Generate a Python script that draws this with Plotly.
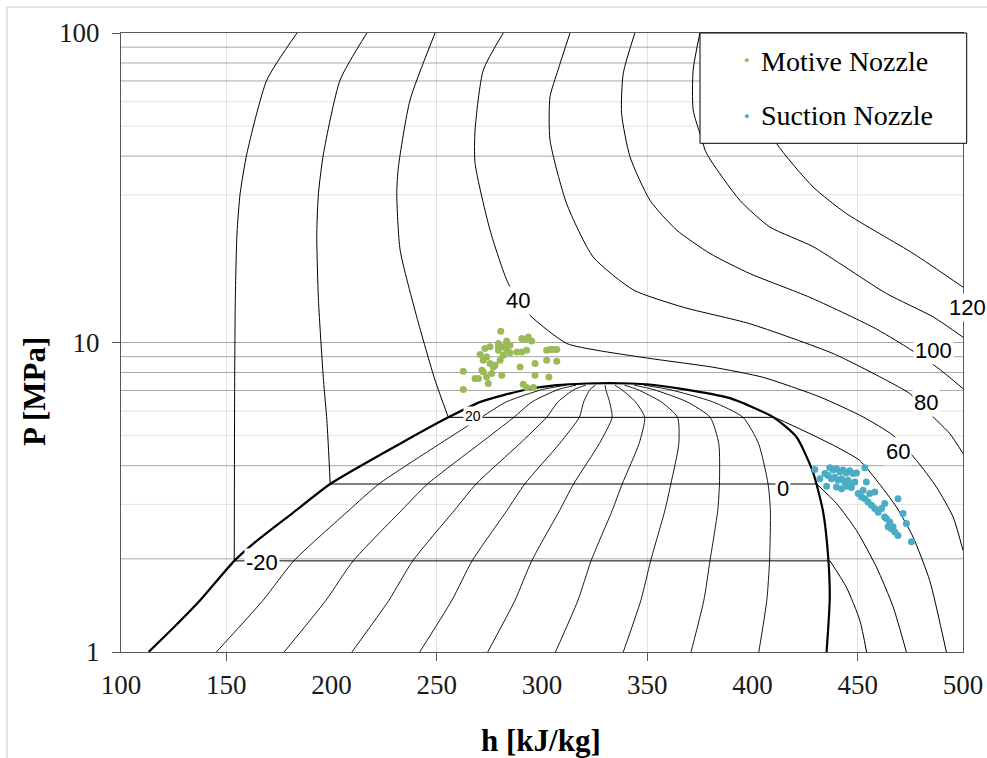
import numpy as np
import plotly.graph_objects as go

# ---------------- data (h in kJ/kg, P in MPa) ----------------
# saturation dome (liquid side -> critical point -> vapour side)
dome_h = [113.1, 125.0, 137.6, 153.8, 162.9, 181.2, 199.4, 232.6, 255.5, 270.8, 292.7, 307.0, 321.2, 332.0,
          342.0, 349.7, 365.5, 389.3, 410.0, 420.9, 428.8, 433.5, 435.9, 436.7, 435.2]
dome_P = [1.0, 1.20, 1.47, 1.97, 2.24, 2.80, 3.49, 4.71, 5.73, 6.43, 7.05, 7.28, 7.37, 7.39,
          7.37, 7.33, 7.10, 6.61, 5.73, 4.95, 3.80, 2.85, 2.05, 1.50, 1.0]

# constant-quality lines inside the dome (x = 0.1 ... 0.9)
q_P = [1.0, 1.47, 1.97, 2.87, 3.49, 4.71, 5.73, 6.43, 7.05, 7.28]
q_h = {
    0.1: [145.3, 167.5, 182.1, 208.3, 222.5, 251.5, 271.1, 283.1, 300.2, 311.6],
    0.2: [177.5, 197.4, 210.3, 233.3, 245.6, 270.4, 286.6, 295.3, 307.7, 316.2],
    0.3: [209.7, 227.3, 238.6, 258.4, 268.7, 289.4, 302.2, 307.6, 315.3, 320.8],
    0.4: [241.9, 257.2, 266.8, 283.4, 291.8, 308.3, 317.7, 319.8, 322.8, 325.4],
    0.5: [274.2, 287.2, 295.1, 308.4, 315.0, 327.2, 333.3, 332.1, 330.3, 330.0],
    0.6: [306.4, 317.1, 323.3, 333.4, 338.1, 346.1, 348.8, 344.4, 337.8, 334.6],
    0.7: [338.6, 347.0, 351.6, 358.4, 361.2, 365.0, 364.4, 356.6, 345.3, 339.2],
    0.8: [370.8, 376.9, 379.8, 383.5, 384.3, 384.0, 379.9, 368.9, 352.9, 343.8],
    0.9: [403.0, 406.8, 408.1, 408.5, 407.4, 402.9, 395.5, 381.1, 360.4, 348.4],
}

# sub-critical isotherms: liquid branch (ends at saturated liquid), vapour branch (starts at saturated vapour)
iso_m20_liq_h = [183.6, 169.3, 159.8, 156.6, 155.1, 154.3, 154.0, 153.8]
iso_m20_liq_P = [100, 70.5, 40.8, 30.3, 22.5, 13.7, 7.55, 1.97]
iso_m20_vap_h = [436.8, 444.6, 451.0, 454.2]
iso_m20_vap_P = [1.97, 1.62, 1.265, 1.0]

iso_0_liq_h = [216.8, 204.1, 196.2, 193.8, 193.0, 193.8, 196.2, 197.8, 199.4]
iso_0_liq_P = [100, 70.5, 40.8, 30.3, 22.5, 13.7, 7.55, 5.61, 3.49]
iso_0_vap_h = [430.5, 439.9, 449.4, 458.9, 466.8, 473.1]
iso_0_vap_P = [3.49, 3.02, 2.47, 1.88, 1.40, 1.0]

iso_20_liq_h = [249.2, 237.3, 231.8, 231.0, 232.6, 240.5, 249.2, 255.5]
iso_20_liq_P = [100, 60.7, 37.0, 30.3, 19.9, 12.1, 7.55, 5.73]
iso_20_vap_h = [410.5, 424.0, 439.9, 450.9, 458.9, 468.4, 476.3, 484.2, 492.1]
iso_20_vap_P = [5.73, 5.20, 4.60, 4.16, 3.59, 2.94, 2.35, 1.70, 1.0]

# super-critical isotherms
iso_40_h = [281.6, 272.1, 268.2, 268.2, 275.3, 284.0, 294.3, 311.7, 326.1, 351.3, 381.2, 404.9,
            432.0, 452.5, 466.8, 477.9, 487.4, 495.3, 500.0]
iso_40_P = [100, 75.9, 48.6, 37.9, 23.1, 15.5, 12.25, 9.93, 9.44, 8.88, 8.32, 7.72,
            6.67, 5.75, 5.01, 4.16, 3.41, 2.73, 2.13]
iso_60_h = [313.3, 307.6, 303.8, 303.8, 311.7, 324.3, 343.3, 367.1, 398.7, 438.3, 463.6, 474.7,
            485.8, 493.7, 500.0]
iso_60_P = [100, 75.9, 62.2, 45.1, 28.1, 18.9, 14.8, 13.0, 11.5, 9.21, 7.55, 6.84, 5.75, 5.08, 4.38]
iso_80_h = [344.1, 338.6, 337.8, 341.8, 351.3, 363.9, 379.8, 398.7, 427.2, 457.3, 473.1, 487.4, 500.0]
iso_80_P = [100, 74.1, 55.0, 39.8, 28.8, 23.1, 19.4, 16.7, 14.0, 11.2, 9.68, 8.34, 7.10]
iso_100_h = [375.0, 371.8, 371.8, 375.0, 378.2, 394.0, 408.3, 428.8, 463.6, 485.8, 500.0]
iso_100_P = [100, 75.9, 56.4, 47.4, 40.8, 28.8, 23.6, 20.4, 14.4, 12.1, 10.4]
iso_120_h = [406.3, 403.5, 404.4, 411.4, 428.8, 444.6, 476.3, 500.0]
iso_120_P = [100, 70.5, 56.4, 44.0, 31.8, 26.1, 19.4, 15.1]

# isotherm labels
label_text = ["-20", "0", "20", "40", "60", "80", "100", "120"]
label_h = [167.1, 414.6, 267.4, 288.7, 469.1, 482.6, 485.8, 502.0]
label_P = [1.95, 3.38, 5.79, 13.7, 4.46, 6.39, 9.39, 12.96]
label_size = [22, 22, 14, 22, 22, 22, 22, 22]

# measured points
motive_h = [280.4, 262.6, 262.6, 270.6, 272.9, 275.3, 279.3, 279.3, 283.2, 283.2, 290.4, 291.9,
            293.5, 295.1, 272.1, 275.3, 277.7, 280.1, 273.7, 281.6, 283.2, 284.8, 288.0, 290.4,
            292.7, 276.9, 268.2, 269.8, 271.4, 272.1, 273.7, 274.5, 276.1, 280.9, 289.6, 296.7,
            296.7, 302.2, 303.8, 305.4, 307.0, 302.2, 307.0, 303.3, 291.1, 292.7, 295.9, 279.3,
            281.6, 284.8]
motive_P = [10.88, 8.08, 7.05, 9.15, 9.56, 9.68, 9.93, 9.68, 10.12, 9.80, 10.30, 10.22,
            10.42, 10.12, 8.77, 8.55, 8.45, 8.77, 8.98, 9.10, 9.44, 9.26, 9.32, 9.32,
            9.44, 8.34, 7.65, 7.65, 8.14, 8.04, 7.74, 7.37, 7.94, 7.84, 8.34, 8.55,
            7.84, 9.44, 9.49, 9.49, 9.49, 8.77, 8.70, 7.74, 7.33, 7.16, 7.16, 9.44,
            9.68, 9.80]
suction_h = [429.6, 436.7, 438.3, 439.9, 441.5, 443.0, 444.6, 446.2, 447.8, 449.4, 453.4,
             435.9, 437.5, 439.1, 440.7, 442.3, 443.8, 445.4, 447.0, 448.6,
             435.2, 439.9, 442.3, 444.6, 447.0, 454.1,
             450.2, 451.8, 453.4, 454.9, 456.5, 458.1,
             458.1, 462.8, 459.7, 461.3, 463.6, 465.2, 462.8,
             464.4, 466.0, 467.6, 469.1, 466.8,
             469.1, 471.5, 473.1, 475.5, 452.5, 455.7, 432.0, 434.4]
suction_P = [3.89, 3.94, 3.87, 3.91, 3.82, 3.87, 3.79, 3.85, 3.77, 3.79, 3.94,
             3.72, 3.63, 3.67, 3.59, 3.63, 3.54, 3.59, 3.50, 3.54,
             3.43, 3.41, 3.37, 3.43, 3.40, 3.54,
             3.25, 3.17, 3.13, 3.05, 2.98, 2.91,
             3.29, 3.02, 2.83, 2.91, 2.70, 2.63, 2.73,
             2.54, 2.50, 2.44, 2.38, 2.54,
             3.13, 2.80, 2.60, 2.27, 3.33, 3.25, 3.63, 3.77]

# axes / grid
x_range = [100, 500]
x_ticks = [100, 150, 200, 250, 300, 350, 400, 450, 500]
x_grid = [150, 250, 350, 450]
y_ticks = [1, 10, 100]
y_grid_dark = [2, 4, 7, 8, 9, 40, 70, 80, 90]
y_grid_light = [3, 5, 6, 30, 50, 60]

# ---------------- figure ----------------
W, H = 987, 758
ML, MR, MT, MB = 121, 24, 33, 106
PW, PH = W - ML - MR, H - MT - MB


def px(sx):  # screen x -> paper fraction
    return (sx - ML) / PW


def py(sy):  # screen y -> paper fraction
    return 1 - (sy - MT) / PH


fig = go.Figure()


def line(x, y, color="black", width=1.0, shape="spline"):
    fig.add_trace(go.Scatter(x=x, y=y, mode="lines",
                             line=dict(color=color, width=width, shape=shape, smoothing=0.6),
                             hoverinfo="skip", showlegend=False))


for p in y_grid_light:
    line(x_range, [p, p], color="#e2e2e2", width=1, shape="linear")
for p in y_grid_dark:
    line(x_range, [p, p], color="#a6a6a6", width=1, shape="linear")

for xq, hs in q_h.items():
    line(hs, q_P, width=0.9)

for lh, lp, vh, vp in [(iso_m20_liq_h, iso_m20_liq_P, iso_m20_vap_h, iso_m20_vap_P),
                       (iso_0_liq_h, iso_0_liq_P, iso_0_vap_h, iso_0_vap_P),
                       (iso_20_liq_h, iso_20_liq_P, iso_20_vap_h, iso_20_vap_P)]:
    line(lh, lp)
    line([lh[-1], vh[0]], [lp[-1], vp[0]], shape="linear")
    line(vh, vp)

for hh, pp in [(iso_40_h, iso_40_P), (iso_60_h, iso_60_P), (iso_80_h, iso_80_P),
               (iso_100_h, iso_100_P), (iso_120_h, iso_120_P)]:
    line(hh, pp)

line(dome_h, dome_P, width=2.2)

fig.add_trace(go.Scatter(x=motive_h, y=motive_P, mode="markers", name="Motive Nozzle",
                         marker=dict(color="#9BBB59", size=7), showlegend=False))
fig.add_trace(go.Scatter(x=suction_h, y=suction_P, mode="markers", name="Suction Nozzle",
                         marker=dict(color="#4BACC6", size=7), showlegend=False))

serif = "Liberation Serif, Times New Roman, serif"
sans = "Liberation Sans, Arial, sans-serif"

for t, h, p, sz in zip(label_text, label_h, label_P, label_size):
    fig.add_annotation(x=(h - x_range[0]) / (x_range[1] - x_range[0]), xref="paper",
                       y=np.log10(p), yref="y", text=t, showarrow=False,
                       xanchor="center", yanchor="middle",
                       font=dict(family=sans, size=sz, color="black"),
                       bgcolor="white", borderpad=1)

# legend box
fig.add_shape(type="rect", xref="paper", yref="paper", x0=px(700), x1=px(966.7),
              y0=py(143.3), y1=py(33), line=dict(color="black", width=1),
              fillcolor="white", layer="above")
for name, col, yc in [("Motive Nozzle", "#9BBB59", 61), ("Suction Nozzle", "#4BACC6", 116)]:
    fig.add_annotation(x=px(746), y=py(yc - 1), xref="paper", yref="paper", text="●",
                       xanchor="center", yanchor="middle",
                       showarrow=False, font=dict(size=9, color=col))
    fig.add_annotation(x=px(759), y=py(yc), xref="paper", yref="paper", text=name,
                       xanchor="left", yanchor="middle", showarrow=False,
                       font=dict(family=serif, size=28, color="black"))

# axis titles
fig.add_annotation(x=px(541), y=py(740), xref="paper", yref="paper", text="<b>h [kJ/kg]</b>",
                   xanchor="center", yanchor="middle",
                   showarrow=False, font=dict(family=serif, size=31, color="black"))
fig.add_annotation(x=px(34), y=py(392), xref="paper", yref="paper", text="<b>P [MPa]</b>",
                   xanchor="center", yanchor="middle",
                   textangle=-90, showarrow=False, font=dict(family=serif, size=31, color="black"))

# outer frame
fig.add_shape(type="rect", xref="paper", yref="paper", x0=px(7), x1=px(1000), y0=py(800), y1=py(7),
              line=dict(color="#d9d9d9", width=1.5), layer="below")

fig.update_layout(
    width=W, height=H, margin=dict(l=ML, r=MR, t=MT, b=MB, autoexpand=False),
    paper_bgcolor="white", plot_bgcolor="white", showlegend=False,
    xaxis=dict(range=x_range, tickvals=x_ticks, ticks="outside", ticklen=8,
               tickcolor="rgba(0,0,0,0)", showgrid=False, zeroline=False, automargin=False,
               showline=True, linecolor="#595959", linewidth=1.2, mirror=True,
               tickfont=dict(family=serif, size=27, color="#1a1a1a"),
               ticklabelstandoff=0,
               minor=dict(tickvals=x_grid, ticks="outside", ticklen=8, tickcolor="#595959",
                          showgrid=True, gridcolor="#e2e2e2", gridwidth=1)),
    yaxis=dict(type="log", range=[0, 2], tickvals=y_ticks, ticktext=["1", "10", "100"],
               ticks="outside", ticklen=8, tickcolor="#595959", automargin=False,
               showgrid=True, gridcolor="#a6a6a6", gridwidth=1, zeroline=False,
               showline=True, linecolor="#595959", linewidth=1.2, mirror=True,
               tickfont=dict(family=serif, size=27, color="#1a1a1a"),
               ticklabelstandoff=7),
)

# remove the default page margin so the 987x758 figure fills the window exactly
fig.write_html("out.html",
               config={"displayModeBar": False},
               post_script="document.documentElement.style.overflow='hidden';"
                           "document.body.style.margin='0';document.body.style.overflow='hidden';")
